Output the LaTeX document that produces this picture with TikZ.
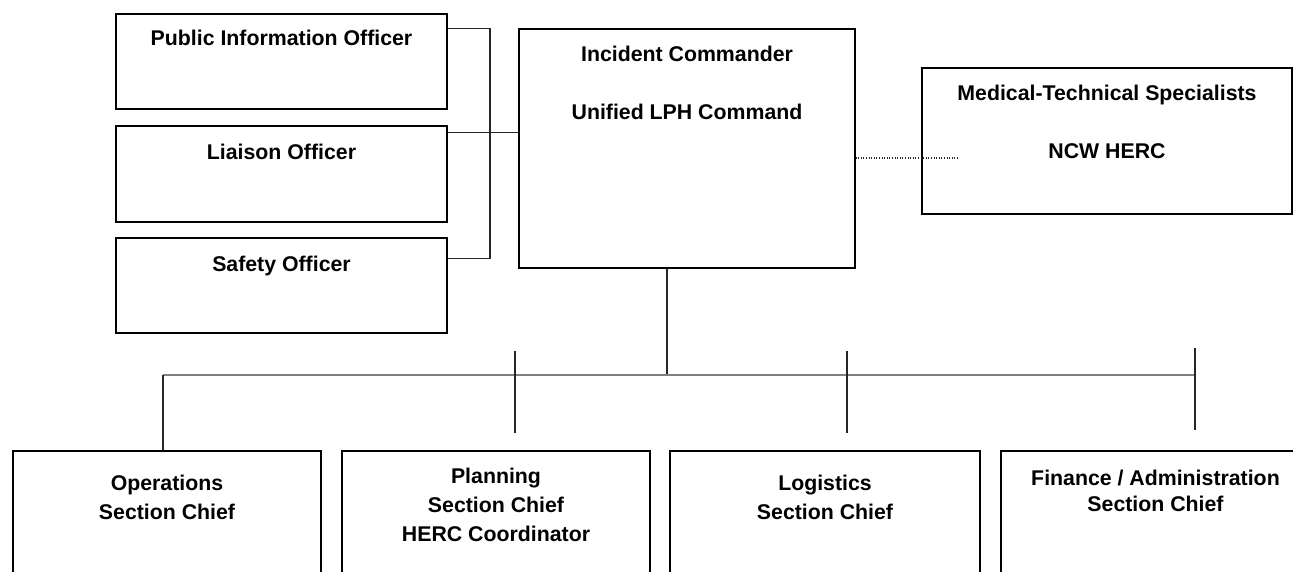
\documentclass[tikz,border=0pt]{standalone}
\usepackage{fontspec}
\setmainfont{Liberation Sans}
\begin{document}
\begin{tikzpicture}[x=1pt, y=-1pt, font=\fontsize{21.3}{29}\selectfont\bfseries,
  box/.style={draw, line width=1.2pt, inner sep=0pt},
  txt/.style={anchor=north, inner sep=0pt, align=center},
  link/.style={draw=black!85, line width=1.2pt},
  bus/.style={draw=black!50, line width=1.6pt},
  dots/.style={draw=black!85, line width=1.2pt, dash pattern=on 1pt off 1.6pt}]
\useasboundingbox (0,0) rectangle (1293,572); %page size
	%Staff boxes
\node[box, minimum width=331pt, minimum height=95pt] (pio) at (281.5,61.5) {};
\node[box, minimum width=331pt, minimum height=96pt] (liaison) at (281.5,174) {};
\node[box, minimum width=331pt, minimum height=95pt] (safety) at (281.5,285.5) {};
\node[txt] (piotxt) at ([yshift=-16pt]pio.north) {Public Information Officer};
\node[txt] (liaisontxt) at ([yshift=-18pt]liaison.north) {Liaison Officer};
\node[txt] (safetytxt) at ([yshift=-18pt]safety.north) {Safety Officer};
	%Command boxes
\node[box, minimum width=336pt, minimum height=239pt] (ic) at (687,148.5) {};
\node[txt] (ictxt) at ([yshift=-17pt]ic.north) {Incident Commander\\ \\Unified LPH Command};
\node[box, minimum width=370pt, minimum height=146pt] (med) at (1107,141) {};
\node[txt] (medtxt) at ([yshift=-17pt]med.north) {Medical-Technical Specialists\\ \\NCW HERC};
	%Section boxes
\node[box, minimum width=308pt, minimum height=170pt] (ops) at (167,536) {};
\node[box, minimum width=308pt, minimum height=170pt] (plan) at (496,536) {};
\node[box, minimum width=310pt, minimum height=170pt] (logi) at (825,536) {};
\node[box, minimum width=309pt, minimum height=170pt] (fin) at (1155.5,536) {};
\node[txt] (opstxt) at ([yshift=-24pt]ops.north) {Operations\\Section Chief};
\node[txt] (plantxt) at ([yshift=-17pt]plan.north) {Planning\\Section Chief\\HERC Coordinator};
\node[txt] (logitxt) at ([yshift=-24pt]logi.north) {Logistics\\Section Chief};
\node[txt] (fintxt) at ([yshift=-19pt]fin.north) {Finance / Administration\\[-3pt]Section Chief};
	%Staff bracket
\coordinate (brk) at (490,0);
\coordinate (safelink) at ([yshift=-21pt]safety.north east);
\coordinate (liaisonlink) at ([yshift=-7pt]liaison.north east);
\draw[link] (pio.east |- ic.north) -- (brk |- ic.north) -- (brk |- safelink) -- (safelink);
\draw[link] (liaisonlink) -- (liaisonlink -| ic.west);
	%Dotted line to specialists
\coordinate (dotend) at (958,158);
\draw[dots] (ic.east |- dotend) -- (dotend);
	%Bus
\coordinate (busL) at (163,375);
\coordinate (busR) at (1195,375);
\coordinate (icdrop) at (667,375);
\draw[link] (icdrop |- ic.south) -- (icdrop);
\draw[bus] (busL) -- (busR);
\draw[link] (busL) -- (busL |- ops.north);
\foreach \x/\a/\b in {515/351/433, 847/351/433, 1195/348/430}{
  \coordinate (tk\x a) at (\x,\a);
  \coordinate (tk\x b) at (\x,\b);
  \draw[link] (tk\x a) -- (tk\x b);
}
\end{tikzpicture}
\end{document}
